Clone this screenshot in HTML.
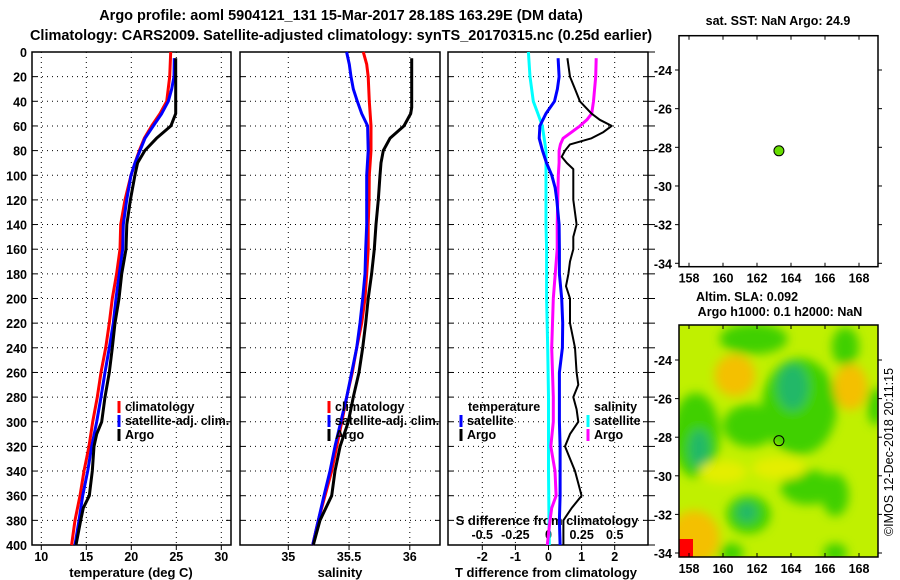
<!DOCTYPE html>
<html><head><meta charset="utf-8"><style>
body{margin:0;background:#fff}
svg{display:block;font-family:"Liberation Sans",sans-serif;font-weight:bold}
text{font-size:12.5px;fill:#000}
</style></head><body>
<svg id="c" width="900" height="580" xmlns="http://www.w3.org/2000/svg">
<defs><filter id="bl" x="-50%" y="-50%" width="200%" height="200%"><feGaussianBlur stdDeviation="5"/></filter>
<clipPath id="mclip"><rect x="679" y="325" width="199" height="232"/></clipPath></defs>
<text x="341" y="20" text-anchor="middle" style="font-size:14.5px">Argo profile: aoml 5904121_131 15-Mar-2017 28.18S 163.29E (DM data)</text>
<text x="341" y="40" text-anchor="middle" style="font-size:14.5px">Climatology: CARS2009. Satellite-adjusted climatology: synTS_20170315.nc (0.25d earlier)</text>
<g id="g"></g>
<text transform="translate(893,452) rotate(-90)" text-anchor="middle" font-size="12" style="font-weight:normal">©IMOS 12-Dec-2018 20:11:15</text>
</svg>
<script>
const NS='http://www.w3.org/2000/svg';
const G=document.getElementById('g');
function mk(t,a,p){const e=document.createElementNS(NS,t);for(const k in a)e.setAttribute(k,a[k]);(p||G).appendChild(e);return e;}
function tx(x,y,s,anchor,name,extra){const e=mk('text',Object.assign({x:x,y:y,'text-anchor':anchor||'middle'},extra||{}));e.textContent=s;


return e;}

// ---- data ----
const depthTicks=[0,20,40,60,80,100,120,140,160,180,200,220,240,260,280,300,320,340,360,380,400];
const tempTicks=[10,15,20,25,30];
const salTicks=[35,35.5,36];
const tdTicks=[-2,-1,0,1,2];
const sdTicks=[-0.5,-0.25,0,0.25,0.5];
const argoTD=[5,50,60,70,80,90,100,120,140,160,180,200,220,240,260,280,300,310,320,340,360,370,380,400];
const argoT=[24.93,24.93,24.4,22.8,21.5,20.7,20.4,19.9,19.5,19.41,18.93,18.63,18.19,17.89,17.56,17.08,16.71,16.16,15.86,15.67,15.33,14.67,14.38,13.86];
const climD=[0,20,40,50,60,70,80,90,100,120,140,160,180,200,220,240,260,280,300,320,340,360,380,400];
const climT=[24.38,24.27,23.93,23.19,22.27,21.44,20.89,20.41,19.97,19.3,18.82,18.74,18.37,17.89,17.56,17.16,16.63,16.22,15.71,15.3,14.74,14.3,13.74,13.37];
const satTD=[5,20,30,40,50,60,70,80,90,100,120,140,160,180,200,220,240,260,280,300,320,340,360,380,400];
const satT=[24.78,24.74,24.49,24.11,23.38,22.44,21.52,20.97,20.41,19.97,19.49,19.11,19.04,18.67,18.3,18.0,17.56,17.08,16.63,16.16,15.6,15.16,14.6,14.19,13.74];
const argoSD=[5,45,50,60,70,80,90,100,120,140,160,180,200,220,240,260,280,300,320,340,360,380,400];
const argoS=[36.016,36.016,36.007,35.952,35.837,35.782,35.763,35.755,35.741,35.722,35.708,35.686,35.658,35.637,35.612,35.582,35.535,35.494,35.426,35.384,35.357,35.261,35.206];
const climSD=[0,10,20,40,60,80,100,120,140,160,180,200,220,240,260,280,300,320,340,360,380,400];
const climS=[35.617,35.645,35.658,35.667,35.681,35.681,35.667,35.665,35.658,35.658,35.645,35.631,35.604,35.563,35.527,35.481,35.44,35.398,35.357,35.302,35.247,35.201];
const satSD=[0,10,20,30,40,50,60,80,100,120,140,160,180,200,220,240,260,280,300,320,340,360,380,400];
const satS=[35.48,35.502,35.516,35.535,35.568,35.604,35.653,35.658,35.645,35.645,35.645,35.637,35.631,35.612,35.59,35.563,35.522,35.481,35.432,35.384,35.343,35.294,35.247,35.201];
const dTsatD=[5,20,30,40,50,60,70,80,90,100,110,120,140,160,180,200,220,240,260,280,300,320,340,360,380,400];
const dTsat=[0.29,0.32,0.27,0.18,-0.08,-0.26,-0.28,-0.18,-0.06,0.1,0.2,0.25,0.32,0.33,0.33,0.4,0.43,0.42,0.33,0.33,0.33,0.35,0.35,0.35,0.33,0.35];
const dTargoD=[5,20,30,40,50,55,60,65,70,75,80,85,90,95,100,120,140,150,160,170,180,190,200,220,240,260,270,280,290,300,310,320,340,360,370,380,400];
const dTargo=[0.57,0.65,0.8,0.95,1.3,1.55,1.91,1.66,1.3,0.65,0.5,0.4,0.55,0.75,0.75,0.75,0.85,0.75,0.75,0.65,0.6,0.53,0.65,0.65,0.8,0.85,0.9,0.75,0.85,0.9,0.65,0.5,0.8,1.0,0.7,0.45,0.45];
const dSsatD=[0,20,40,50,60,80,100,140,160,200,240,280,300,340,380,400];
const dSsat=[-0.152,-0.14,-0.115,-0.08,-0.047,-0.019,-0.019,-0.019,-0.014,-0.014,-0.006,0,0,0,0.004,0.006];
const dSargoD=[5,20,40,50,55,60,65,70,75,80,90,100,140,160,200,240,280,300,320,340,360,370,380,400];
const dSargo=[0.36,0.356,0.34,0.326,0.29,0.238,0.175,0.11,0.09,0.08,0.08,0.074,0.066,0.066,0.036,0.024,0.036,0.036,0.017,0.049,0.057,0.024,0.011,-0.009];
const lonTicks=[158,160,162,164,166,168];
const latTicks=[-24,-26,-28,-30,-32,-34];
const argoLon=163.29, argoLat=-28.18;
// SLA blobs: lon, lat, rx(deg), ry(deg), category
const blobLon=[161.8,164.5,164.1,158.4,158.6,161.6,167.2,169.0,165.0,161.5,161.4,166.6,160.7,167.5,158.3,157.9,160.5,166.6,160.0,163.3];
const blobLat=[-22.9,-26.4,-25.4,-27.9,-28.6,-27.4,-23.3,-26.4,-30.6,-32.0,-31.9,-31.0,-24.8,-25.4,-33.2,-33.5,-34.0,-34.0,-29.8,-29.6];
const blobRx=[2.0,2.2,0.9,1.4,0.6,1.6,0.8,0.5,1.6,1.3,0.6,0.8,1.2,1.0,1.5,0.8,0.7,0.7,1.4,1.6];
const blobRy=[0.8,2.5,1.2,2.2,1.0,1.1,1.0,1.0,0.9,1.0,0.5,1.1,1.1,1.2,1.4,0.8,0.5,0.5,0.6,0.6];
const blobCat=['g','g','t','g','t','g','g','g','g','g','t','g','o','o','o','o','g','g','y','y'];

// ---- axes ----
const Y=d=>52+d*1.2325;
const xT=v=>41.3+(v-10)*9;
const xS=v=>288.3+(v-35)*121.5;
const xTD=v=>548.5+v*33.1;
const xSD=v=>548.5+v*132.5;
const panels=[[32,231,'temperature-panel'],[240,440,'salinity-panel'],[448,648,'difference-panel']];
const dots='1 4';
panels.forEach((p,i)=>{
  const g=mk('g',{});
  
  
  depthTicks.forEach(d=>{ if(d>0&&d<400){mk('line',{x1:p[0],x2:p[1],y1:Y(d),y2:Y(d),stroke:'#000','stroke-dasharray':dots,'stroke-width':1},g);}
    mk('line',{x1:p[0],x2:p[0]+5,y1:Y(d),y2:Y(d),stroke:'#000'},g);mk('line',{x1:p[1]-5,x2:p[1],y1:Y(d),y2:Y(d),stroke:'#000'},g);});
  const vt=i==0?tempTicks.map(xT):i==1?salTicks.map(xS):tdTicks.map(xTD);
  vt.forEach(x=>{mk('line',{x1:x,x2:x,y1:52,y2:545,stroke:'#000','stroke-dasharray':dots},g);mk('line',{x1:x,x2:x,y1:545,y2:550,stroke:'#000'},g);});
  mk('rect',{x:p[0],y:52,width:p[1]-p[0],height:493,fill:'none',stroke:'#000','stroke-width':1.5},g);
});
depthTicks.forEach(d=>{mk('line',{x1:648,x2:655,y1:Y(d),y2:Y(d),stroke:'#000'});});
depthTicks.forEach(d=>tx(27,Y(d)+5,String(d),'end','depth-tick-label'));
tempTicks.forEach(v=>tx(xT(v),561,String(v),'middle','temperature-tick-label'));
salTicks.forEach(v=>tx(xS(v),561,String(v),'middle','salinity-tick-label'));
tdTicks.forEach(v=>tx(xTD(v),561,String(v),'middle','t-difference-tick-label'));
sdTicks.forEach(v=>tx(xSD(v),539,String(v),'middle','s-difference-tick-label'));
tx(131,577,'temperature (deg C)','middle','x-axis-title-temperature',{style:'font-size:13px'});
tx(340,577,'salinity','middle','x-axis-title-salinity',{style:'font-size:13px'});
tx(546,577,'T difference from climatology','middle','x-axis-title-t-difference',{style:'font-size:13px'});
tx(547,525,'S difference from climatology','middle','x-axis-title-s-difference',{style:'font-size:13px'});

function line(ds,vs,fx,col,w,name){
  const pts=ds.map((d,i)=>fx(vs[i]).toFixed(1)+','+Y(d).toFixed(1)).join(' ');
  const e=mk('polyline',{points:pts,fill:'none',stroke:col,'stroke-width':w,'stroke-linejoin':'round'});
  
  
}
line(climD,climT,xT,'#f00',3,'temperature-climatology-line');
line(satTD,satT,xT,'#00f',3,'temperature-satellite-line');
line(argoTD,argoT,xT,'#000',3,'temperature-argo-line');
line(climSD,climS,xS,'#f00',3,'salinity-climatology-line');
line(satSD,satS,xS,'#00f',3,'salinity-satellite-line');
line(argoSD,argoS,xS,'#000',3,'salinity-argo-line');
line(dSsatD,dSsat,xSD,'#0ff',3,'s-diff-satellite-line');
line(dSargoD,dSargo,xSD,'#f0f',3,'s-diff-argo-line');
line(dTsatD,dTsat,xTD,'#00f',3,'t-diff-satellite-line');
line(dTargoD,dTargo,xTD,'#000',2,'t-diff-argo-line');

function leg(x,y,col,label,name){
  const r=mk('rect',{x:x-1.5,y:y-10,width:3,height:12,fill:col});
  
  
  tx(x+6,y,label,'start',name);
}
[[119,'temperature'],[329,'salinity']].forEach(([x,n])=>{
  leg(x,411,'#f00','climatology',n+'-legend-climatology');
  leg(x,425,'#00f','satellite-adj. clim.',n+'-legend-satellite');
  leg(x,439,'#000','Argo',n+'-legend-argo');
});
tx(468,411,'temperature','start','legend-heading-temperature');
leg(461,425,'#00f','satellite','diff-legend-t-satellite');
leg(461,439,'#000','Argo','diff-legend-t-argo');
tx(594,411,'salinity','start','legend-heading-salinity');
leg(588,425,'#0ff','satellite','diff-legend-s-satellite');
leg(588,439,'#f0f','Argo','diff-legend-s-argo');

// ---- maps ----
const mx=v=>689+(v-158)*17;
const myT=v=>70+(-24-v)*19.33;
const myB=v=>360+(-24-v)*19.3;
const mg=mk('g',{'clip-path':'url(#mclip)'});


mk('rect',{x:679,y:325,width:199,height:232,fill:'#c0f000'},mg);
const bg=mk('g',{filter:'url(#bl)'},mg);
const cols={g:'#40d000',t:'#20b868',y:'#e4ee00',o:'#f4c000',r:'#f40000'};
blobLon.forEach((lo,i)=>{
  const e=mk('ellipse',{cx:mx(lo),cy:myB(blobLat[i]),rx:blobRx[i]*17,ry:blobRy[i]*19.3,fill:cols[blobCat[i]]},bg);
  
  
});
mk('rect',{x:679,y:539,width:14,height:18,fill:'#f00'},mg);
function mapFrame(top,bot,my,name){
  const r=mk('rect',{x:679,y:top,width:199,height:bot-top,fill:'none',stroke:'#000','stroke-width':1.5});
  
  
  lonTicks.forEach(v=>{mk('line',{x1:mx(v),x2:mx(v),y1:top,y2:top+4,stroke:'#000'});mk('line',{x1:mx(v),x2:mx(v),y1:bot,y2:bot-4,stroke:'#000'});tx(mx(v),bot+16,String(v),'middle',name+'-lon-label');});
  latTicks.forEach(v=>{mk('line',{x1:679,x2:675,y1:my(v),y2:my(v),stroke:'#000'});mk('line',{x1:878,x2:882,y1:my(v),y2:my(v),stroke:'#000'});tx(672,my(v)+5,String(v),'end',name+'-lat-label');});
}
mapFrame(35.7,266.7,myT,'sst-map');
mapFrame(325,557,myB,'sla-map');
const p1=mk('circle',{cx:mx(argoLon),cy:myT(argoLat),r:5,fill:'#66dd00',stroke:'#000','stroke-width':1});


const p2=mk('circle',{cx:mx(argoLon),cy:myB(argoLat),r:5,fill:'none',stroke:'#000','stroke-width':1});


tx(778,25,'sat. SST: NaN Argo: 24.9','middle','sst-map-title');
tx(747,301,'Altim. SLA: 0.092','middle','sla-map-title');
tx(780,316,'Argo h1000: 0.1 h2000: NaN','middle','sla-map-subtitle');
</script>
</body></html>
